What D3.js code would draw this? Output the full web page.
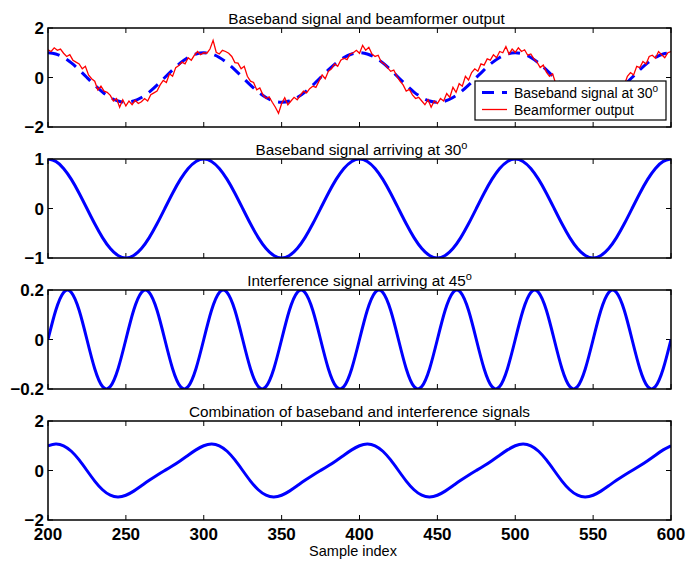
<!doctype html>
<html>
<head>
<meta charset="utf-8">
<style>
  body { margin: 0; background: white; }
  svg { display: block; font-family: "Liberation Sans", Arial, Helvetica, sans-serif; }
  .tick-lbl { font-weight: bold; font-size: 17px; }
  .ttl { font-size: 15.3px; }
</style>
<script src="https://d3js.org/d3.v7.min.js"></script>
</head>
<body>
<script>

// x positions of the samples
var xStep5 = d3.range(200, 601, 5);
var xStep2 = d3.range(200, 601, 2);

// baseband signal at 30 deg (read every 5 samples)
var baseband = [
  1, 0.951, 0.809, 0.588, 0.309, 0, -0.309, -0.588, -0.809, -0.951,
  -1, -0.951, -0.809, -0.588, -0.309, 0, 0.309, 0.588, 0.809, 0.951,
  1, 0.951, 0.809, 0.588, 0.309, 0, -0.309, -0.588, -0.809, -0.951,
  -1, -0.951, -0.809, -0.588, -0.309, 0, 0.309, 0.588, 0.809, 0.951,
  1, 0.951, 0.809, 0.588, 0.309, 0, -0.309, -0.588, -0.809, -0.951,
  -1, -0.951, -0.809, -0.588, -0.309, 0, 0.309, 0.588, 0.809, 0.951,
  1, 0.951, 0.809, 0.588, 0.309, 0, -0.309, -0.588, -0.809, -0.951,
  -1, -0.951, -0.809, -0.588, -0.309, 0, 0.309, 0.588, 0.809, 0.951,
  1
];

// interference signal at 45 deg (every 5 samples)
var interference = [
  0, 0.118, 0.19, 0.19, 0.118, 0, -0.118, -0.19, -0.19, -0.118,
  0, 0.118, 0.19, 0.19, 0.118, 0, -0.118, -0.19, -0.19, -0.118,
  0, 0.118, 0.19, 0.19, 0.118, 0, -0.118, -0.19, -0.19, -0.118,
  0, 0.118, 0.19, 0.19, 0.118, 0, -0.118, -0.19, -0.19, -0.118,
  0, 0.118, 0.19, 0.19, 0.118, 0, -0.118, -0.19, -0.19, -0.118,
  0, 0.118, 0.19, 0.19, 0.118, 0, -0.118, -0.19, -0.19, -0.118,
  0, 0.118, 0.19, 0.19, 0.118, 0, -0.118, -0.19, -0.19, -0.118,
  0, 0.118, 0.19, 0.19, 0.118, 0, -0.118, -0.19, -0.19, -0.118,
  0
];

// combination (every 5 samples)
var combined = [
  1, 1.069, 0.999, 0.778, 0.427, 0, -0.427, -0.778, -0.999, -1.069,
  -1, -0.833, -0.619, -0.398, -0.191, 0, 0.191, 0.398, 0.619, 0.833,
  1, 1.069, 0.999, 0.778, 0.427, 0, -0.427, -0.778, -0.999, -1.069,
  -1, -0.833, -0.619, -0.398, -0.191, 0, 0.191, 0.398, 0.619, 0.833,
  1, 1.069, 0.999, 0.778, 0.427, 0, -0.427, -0.778, -0.999, -1.069,
  -1, -0.833, -0.619, -0.398, -0.191, 0, 0.191, 0.398, 0.619, 0.833,
  1, 1.069, 0.999, 0.778, 0.427, 0, -0.427, -0.778, -0.999, -1.069,
  -1, -0.833, -0.619, -0.398, -0.191, 0, 0.191, 0.398, 0.619, 0.833,
  1
];

// beamformer output (every 2 samples, noisy)
var beamformer = [
  1.12, 1.05, 1.20, 1.10, 1.15, 0.98, 0.85, 0.92, 0.70, 0.62,
  0.55, 0.35, 0.45, 0.10, -0.05, -0.15, -0.50, -0.35, -0.55, -0.60,
  -0.72, -0.95, -0.85, -1.20, -0.90, -1.15, -0.95, -1.10, -0.92, -1.05,
  -0.98, -0.85, -0.95, -0.70, -0.62, -0.55, -0.30, -0.12, -0.20, 0.15,
  0.05, 0.40, 0.48, 0.62, 0.55, 0.80, 0.70, 0.90, 1.05, 0.92,
  1.00, 0.98, 1.15, 1.50, 1.02, 0.95, 1.10, 1.05, 0.98, 0.85,
  0.60, 0.58, 0.35, 0.45, 0.05, -0.15, -0.20, -0.50, -0.42, -0.70,
  -0.85, -0.78, -1.00, -1.20, -1.45, -1.05, -0.82, -1.10, -0.95, -0.80,
  -0.90, -0.72, -0.55, -0.62, -0.45, -0.35, -0.40, -0.15, 0.10, -0.05,
  0.25, 0.35, 0.55, 0.45, 0.70, 0.78, 0.72, 0.95, 1.00, 1.10,
  0.98, 1.30, 1.10, 1.22, 0.95, 0.85, 0.90, 0.62, 0.55, 0.40,
  0.25, 0.30, 0.05, -0.15, -0.30, -0.55, -0.48, -0.70, -0.85, -0.80,
  -0.95, -1.10, -0.90, -1.20, -0.95, -1.05, -0.85, -0.95, -0.65, -0.80,
  -0.40, -0.60, -0.25, -0.35, 0.05, -0.10, 0.20, 0.35, 0.25, 0.55,
  0.50, 0.75, 0.70, 0.92, 0.80, 1.05, 1.00, 1.25, 0.95, 1.15,
  1.02, 1.20, 1.05, 1.12, 0.90, 0.95, 0.75, 0.62, 0.40, 0.50,
  0.22, 0.05, 0.15, -0.25, -0.30, -0.55, -0.50, -0.75, -0.80, -0.92,
  -1.00, -0.88, -1.10, -0.95, -1.05, -0.92, -1.02, -0.88, -0.95, -0.70,
  -0.75, -0.55, -0.62, -0.35, -0.25, -0.30, 0.05, 0.20, 0.10, 0.45,
  0.40, 0.65, 0.55, 0.85, 0.90, 0.78, 1.05, 0.92, 0.80, 1.00,
  1.05
];

var xTicks = [200, 250, 300, 350, 400, 450, 500, 550, 600];
var titles = [
  "Baseband signal and beamformer output",
  "Baseband signal arriving at 30",
  "Interference signal arriving at 45",
  "Combination of baseband and interference signals"
];
var titleSup = [false, true, true, false];
var yDomains = [[-2, 2], [-1, 1], [-0.2, 0.2], [-2, 2]];
var yTicks = [[-2, 0, 2], [-1, 0, 1], [-0.2, 0, 0.2], [-2, 0, 2]];
var legendLabels = ["Baseband signal at 30", "Beamformer output"];

var W = 688, H = 562;
var left = 48, right = 671;
var tops = [28, 159, 290, 421];
var ph = 99;
var titleShift = [7, 2, 0, 0];

var svg = d3.select("body").append("svg").attr("width", W).attr("height", H);

var x = d3.scaleLinear().domain([200, 600]).range([left, right]);

function fmt(v) {
  var s = (v !== 0 && Math.abs(v) < 1) ? Math.abs(v).toFixed(1) : String(Math.abs(v));
  return (v < 0 ? "\u2212" : "") + s;
}

var panels = [];
for (var i = 0; i < 4; i++) {
  var y = d3.scaleLinear().domain(yDomains[i]).range([tops[i] + ph, tops[i]]);
  var g = svg.append("g");
  panels.push({ g: g, y: y });

  g.append("defs").append("clipPath").attr("id", "clip" + i)
    .append("rect").attr("x", left).attr("y", tops[i]).attr("width", right - left).attr("height", ph);

  // ticks inside the box
  xTicks.forEach(function(t) {
    g.append("line").attr("x1", x(t)).attr("x2", x(t)).attr("y1", tops[i] + ph).attr("y2", tops[i] + ph - 5)
      .attr("stroke", "black").attr("stroke-width", 1);
    g.append("line").attr("x1", x(t)).attr("x2", x(t)).attr("y1", tops[i]).attr("y2", tops[i] + 5)
      .attr("stroke", "black").attr("stroke-width", 1);
  });
  yTicks[i].forEach(function(t) {
    g.append("line").attr("x1", left).attr("x2", left + 5).attr("y1", y(t)).attr("y2", y(t))
      .attr("stroke", "black").attr("stroke-width", 1);
    g.append("line").attr("x1", right).attr("x2", right - 5).attr("y1", y(t)).attr("y2", y(t))
      .attr("stroke", "black").attr("stroke-width", 1);
    g.append("text").attr("class", "tick-lbl").attr("x", left - 4).attr("y", y(t) + 6)
      .attr("text-anchor", "end").text(fmt(t));
  });

  var tt = g.append("text").attr("class", "ttl").attr("x", (left + right) / 2 + titleShift[i]).attr("y", tops[i] - 4)
    .attr("text-anchor", "middle").text(titles[i]);
  if (titleSup[i]) tt.append("tspan").attr("dy", -6).attr("font-size", "11px").text("o");
}

var lineFn = function(xs, y) {
  return d3.line().x(function(d, j) { return x(xs[j]); }).y(function(d) { return y(d); }).curve(d3.curveNatural);
};
var lineLin = function(xs, y) {
  return d3.line().x(function(d, j) { return x(xs[j]); }).y(function(d) { return y(d); });
};

// panel 1
var p = panels[0];
p.g.append("path").datum(baseband).attr("clip-path", "url(#clip0)")
  .attr("d", lineFn(xStep5, p.y)).attr("fill", "none").attr("stroke", "#0000ff")
  .attr("stroke-width", 3).attr("stroke-dasharray", "12,8");
p.g.append("path").datum(beamformer).attr("clip-path", "url(#clip0)")
  .attr("d", lineLin(xStep2, p.y)).attr("fill", "none").attr("stroke", "#ff0000")
  .attr("stroke-width", 1.3);

// panel 2
p = panels[1];
p.g.append("path").datum(baseband).attr("clip-path", "url(#clip1)")
  .attr("d", lineFn(xStep5, p.y)).attr("fill", "none").attr("stroke", "#0000ff").attr("stroke-width", 3);

// panel 3
p = panels[2];
p.g.append("path").datum(interference).attr("clip-path", "url(#clip2)")
  .attr("d", lineFn(xStep5, p.y)).attr("fill", "none").attr("stroke", "#0000ff").attr("stroke-width", 3);

// panel 4
p = panels[3];
p.g.append("path").datum(combined).attr("clip-path", "url(#clip3)")
  .attr("d", lineFn(xStep5, p.y)).attr("fill", "none").attr("stroke", "#0000ff").attr("stroke-width", 3);

// boxes on top
panels.forEach(function(pp, i) {
  pp.g.append("rect").attr("x", left).attr("y", tops[i]).attr("width", right - left).attr("height", ph)
    .attr("fill", "none").attr("stroke", "black").attr("stroke-width", 1.5);
});

// bottom x tick labels
xTicks.forEach(function(t) {
  svg.append("text").attr("class", "tick-lbl").attr("x", x(t)).attr("y", tops[3] + ph + 20)
    .attr("text-anchor", "middle").text(t);
});
svg.append("text").attr("x", 353).attr("y", 556).attr("text-anchor", "middle")
  .attr("font-size", "14.5px").text("Sample index");

// legend
var lg = svg.append("g").attr("transform", "translate(475,81)");
lg.append("rect").attr("width", 191).attr("height", 39).attr("fill", "white")
  .attr("stroke", "black").attr("stroke-width", 1.2);
lg.append("line").attr("x1", 7).attr("x2", 32).attr("y1", 11.5).attr("y2", 11.5)
  .attr("stroke", "#0000ff").attr("stroke-width", 3).attr("stroke-dasharray", "12,8");
lg.append("line").attr("x1", 7).attr("x2", 32).attr("y1", 28.5).attr("y2", 28.5)
  .attr("stroke", "#ff0000").attr("stroke-width", 1.3);
var l1 = lg.append("text").attr("x", 39).attr("y", 17).attr("font-size", "14px").text(legendLabels[0]);
l1.append("tspan").attr("dy", -6).attr("font-size", "10px").text("o");
lg.append("text").attr("x", 39).attr("y", 34).attr("font-size", "14px").text(legendLabels[1]);

</script>
</body>
</html>
